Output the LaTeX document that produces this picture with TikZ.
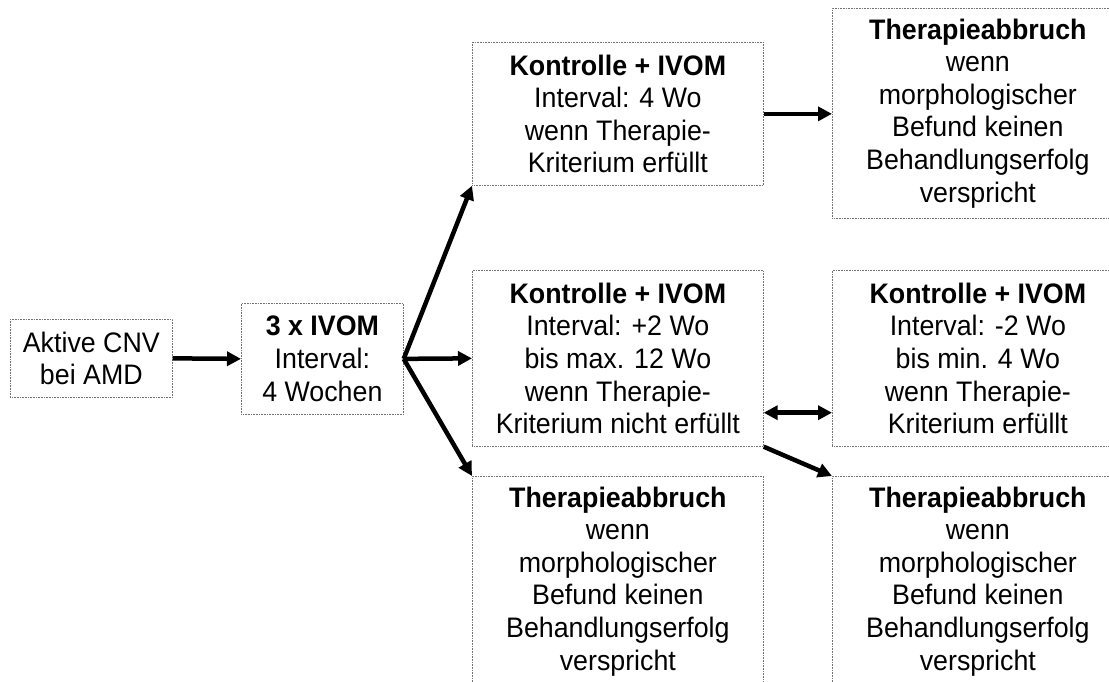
\documentclass[tikz,border=0pt]{standalone}
\usepackage{fontspec}
\setmainfont[FakeStretch=0.95]{Liberation Sans}
\usetikzlibrary{arrows.meta}
\begin{document}
\begin{tikzpicture}[x=1pt,y=-1pt,
  box/.style={draw=black!55, line width=0.7pt, dash pattern=on 0.8pt off 0.8pt,
    rectangle, inner sep=0pt, anchor=north west, align=center,
    font=\fontsize{28.2}{32.6}\selectfont},
  arr/.style={line width=4.5pt, -{Triangle[length=14pt,width=14pt]}},
  darr/.style={line width=4.5pt, {Triangle[length=14pt,width=14pt]}-{Triangle[length=14pt,width=14pt]}}]
\clip (0,0) rectangle (1109,681);
\fill[white] (0,0) rectangle (1109,681);

\node[box, minimum width=162pt, minimum height=78pt] (a) at (10,319) {Aktive CNV\\bei AMD};
\node[box, minimum width=162pt, minimum height=111pt] (b) at (241,303) {\textbf{3 x IVOM}\\Interval:\\4 Wochen};
\node[box, minimum width=291pt, minimum height=143pt] (c) at (472,42) {\textbf{Kontrolle + IVOM}\\Interval: 4 Wo\\wenn Therapie-\\Kriterium erfüllt};
\node[box, minimum width=291pt, minimum height=210pt] (d) at (832,8) {\textbf{Therapieabbruch}\\wenn\\morphologischer\\Befund keinen\\Behandlungserfolg\\verspricht};
\node[box, minimum width=291pt, minimum height=176pt] (e) at (472,270) {\textbf{Kontrolle + IVOM}\\Interval: +2 Wo\\bis max. 12 Wo\\wenn Therapie-\\Kriterium nicht erfüllt};
\node[box, minimum width=291pt, minimum height=176pt] (f) at (832,270) {\textbf{Kontrolle + IVOM}\\Interval: -2 Wo\\bis min. 4 Wo\\wenn Therapie-\\Kriterium erfüllt};
\node[box, minimum width=291pt, minimum height=210pt] (g) at (472,476) {\textbf{Therapieabbruch}\\wenn\\morphologischer\\Befund keinen\\Behandlungserfolg\\verspricht};
\node[box, minimum width=291pt, minimum height=210pt] (h) at (832,476) {\textbf{Therapieabbruch}\\wenn\\morphologischer\\Befund keinen\\Behandlungserfolg\\verspricht};

\draw[arr] (a.east) -- (b.west);
\draw[arr] (b.east) -- (c.south west);
\draw[arr] (b.east) -- (e.west);
\draw[arr] (b.east) -- (g.north west);
\draw[arr] (c.east) -- (c.east -| d.west);
\path (e.south east) ++(0,-34) coordinate (ee);
\draw[darr] (ee) -- (ee -| f.west);
\draw[arr] (e.south east) -- (h.north west);
\end{tikzpicture}
\end{document}
